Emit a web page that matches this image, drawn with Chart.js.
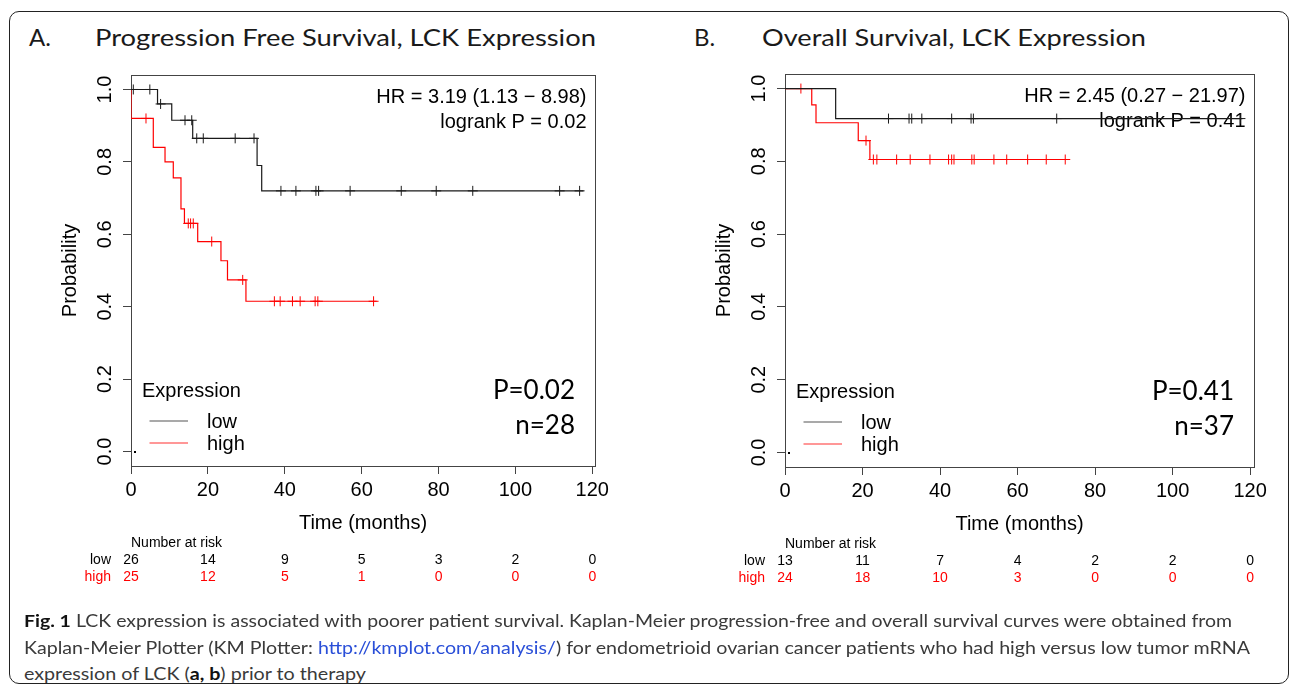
<!DOCTYPE html>
<html lang="en">
<head>
<meta charset="UTF-8">
<title>LCK expression, Kaplan-Meier</title>
<script src="https://cdn.jsdelivr.net/npm/chart.js@4.4.1/dist/chart.umd.min.js"></script>
<style>
  html, body { margin: 0; padding: 0; background: #fff; }
  body { width: 1290px; height: 693px; position: relative; overflow: hidden; font-family: Lato, 'Open Sans', sans-serif; }
  #frame { position: absolute; left: 9px; top: 11px; width: 1280px; height: 673px; box-sizing: border-box;
           border: 1.5px solid #222; border-radius: 10px; }
  .title { position: absolute; font-size: 24px; line-height: 1; color: #1a1a1a; white-space: nowrap; transform-origin: left center; }
  .cap { position: absolute; left: 24px; font-size: 17px; line-height: 1; color: #3a3a3a; white-space: nowrap; transform-origin: left center; }
  .cap b { color: #111; }
  .cap a { color: #2a4fd8; text-decoration: none; }
  canvas { position: absolute; }
</style>
</head>
<body>
<div id="frame"></div>

<div class="title" style="left:29px; top:25px;">A.</div>
<div class="title" id="titleA" style="left:95px; top:25px;">Progression Free Survival, LCK Expression</div>
<div class="title" style="left:694px; top:25px;">B.</div>
<div class="title" id="titleB" style="left:762px; top:25px;">Overall Survival, LCK Expression</div>

<canvas id="pfs" width="600" height="560"></canvas>
<canvas id="os" width="600" height="560"></canvas>

<div class="cap" id="cap1" style="top:612px;"><b>Fig. 1</b> LCK expression is associated with poorer patient survival. Kaplan-Meier progression-free and overall survival curves were obtained from</div>
<div class="cap" id="cap2" style="top:639px;">Kaplan-Meier Plotter (KM Plotter: <a>http://kmplot.com/analysis/</a>) for endometrioid ovarian cancer patients who had high versus low tumor mRNA</div>
<div class="cap" id="cap3" style="top:665px;">expression of LCK (<b>a, b</b>) prior to therapy</div>

<script>
// axis ticks
const timeTicks = [0, 20, 40, 60, 80, 100, 120];
const probTicks = [0, 0.2, 0.4, 0.6, 0.8, 1.0];

// A. progression free survival: step points (months, probability) and censor times
const pfsLowTimes  = [0, 6.9, 10.6, 16.05, 32.8, 34.0, 117.7];
const pfsLowProbs  = [1, 0.96, 0.915, 0.865, 0.79, 0.72, 0.72];
const pfsLowCensor = [0.6, 4.9, 7.7, 14.05, 15.8, 17.1, 18.8, 27.1, 32.0, 39.0, 42.9, 48.1, 48.8, 57.0, 70.3, 79.4, 88.9, 111.5, 116.7];
const pfsHighTimes  = [0, 0, 5.8, 8.85, 11.0, 13.0, 13.9, 17.35, 23.4, 25.1, 29.9, 63.9];
const pfsHighProbs  = [1, 0.92, 0.84, 0.80, 0.756, 0.67, 0.63, 0.58, 0.527, 0.474, 0.415, 0.415];
const pfsHighCensor = [3.9, 14.9, 15.5, 16.2, 21.0, 29.06, 37.3, 38.8, 42.0, 44.0, 47.9, 48.6, 63.1];
const pfsRiskLow  = [26, 14, 9, 5, 3, 2, 0];
const pfsRiskHigh = [25, 12, 5, 1, 0, 0, 0];

// B. overall survival
const osLowTimes  = [0, 13.07, 118.0];
const osLowProbs  = [1, 0.9175, 0.9175];
const osLowCensor = [26.7, 32.0, 32.7, 35.3, 43.0, 48.0, 48.6, 70.1, 117.5];
const osHighTimes  = [0, 6.9, 8.0, 18.9, 21.9, 73.5];
const osHighProbs  = [1, 0.955, 0.906, 0.857, 0.805, 0.805];
const osHighCensor = [4.1, 20.9, 22.8, 23.7, 28.8, 32.3, 37.4, 42.2, 43.0, 43.6, 48.2, 48.8, 53.9, 57.2, 62.6, 67.4, 72.3];
const osRiskLow  = [13, 11, 7, 4, 2, 2, 0];
const osRiskHigh = [24, 18, 10, 3, 0, 0, 0];

const LOW_COLOR = '#1a1a1a';
const HIGH_COLOR = '#ff0000';
const R_FONT = "'Liberation Sans', Arial, sans-serif";

function points(times, probs) {
  return times.map((t, i) => ({ x: t, y: probs[i] }));
}
// censor marks sit on the curve level at their time
function censorPoints(times, probs, censor) {
  return censor.map(t => {
    let lvl = probs[0];
    times.forEach((tt, i) => { if (tt <= t) lvl = probs[i]; });
    return { x: t, y: lvl };
  });
}

const kmDecor = {
  id: 'kmDecor',
  beforeDatasetsDraw(chart) {
    const p = chart.config.options.plugins.kmDecor;
    const a = chart.chartArea;
    const ctx = chart.ctx;
    ctx.save();
    ctx.strokeStyle = '#444';
    ctx.lineWidth = 1;
    ctx.strokeRect(a.left + 0.5, a.top + 0.5, a.right - a.left, a.bottom - a.top);

    ctx.fillStyle = '#000';
    ctx.font = '20px ' + R_FONT;
    ctx.textAlign = 'right';
    ctx.textBaseline = 'middle';
    ctx.fillText(p.hr, a.right - 8.5, a.top + 22);
    ctx.fillText(p.logrank, a.right - 8.5, a.top + 47);

    ctx.font = '26px Lato, sans-serif';
    ctx.fillText(p.pval, a.right - 20, a.bottom - 75);
    ctx.fillText(p.n, a.right - 20, a.bottom - 40);

    // legend
    ctx.textAlign = 'left';
    ctx.font = '20px ' + R_FONT;
    ctx.fillText('Expression', a.left + 11, a.bottom - 75);
    [['low', '#555', 45], ['high', '#ff3030', 23]].forEach(([lab, col, dy]) => {
      ctx.strokeStyle = col;
      ctx.lineWidth = 1.2;
      ctx.beginPath();
      ctx.moveTo(a.left + 18.5, a.bottom - dy);
      ctx.lineTo(a.left + 57, a.bottom - dy);
      ctx.stroke();
      ctx.fillStyle = '#000';
      ctx.fillText(lab, a.left + 76, a.bottom - dy + 1);
    });
    ctx.fillRect(a.left + 3, a.bottom - 15, 2, 2);
    ctx.restore();
  },
  afterDraw(chart) {
    const p = chart.config.options.plugins.kmDecor;
    const a = chart.chartArea;
    const xs = chart.scales.x;
    const ctx = chart.ctx;
    ctx.save();
    ctx.font = '14px ' + R_FONT;
    ctx.textBaseline = 'middle';
    ctx.fillStyle = '#000';
    ctx.textAlign = 'left';
    ctx.fillText('Number at risk', a.left, a.bottom + 77);
    [[p.riskLow, 'low', '#000', 94], [p.riskHigh, 'high', '#ff0000', 111]].forEach(([row, lab, col, dy]) => {
      ctx.fillStyle = col;
      ctx.textAlign = 'right';
      ctx.fillText(lab, a.left - 20, a.bottom + dy);
      ctx.textAlign = 'center';
      row.forEach((v, i) => ctx.fillText(String(v), xs.getPixelForValue(timeTicks[i]), a.bottom + dy));
    });
    ctx.restore();
  }
};

function makePanel(id, box, xMax, d) {
  const canvas = document.getElementById(id);
  const cfg = {
    type: 'line',
    data: {
      datasets: [
        { label: 'low', data: points(d.lowT, d.lowP), borderColor: LOW_COLOR, borderWidth: 1.2, stepped: true, pointRadius: 0 },
        { label: 'high', data: points(d.highT, d.highP), borderColor: HIGH_COLOR, borderWidth: 1.2, stepped: true, pointRadius: 0 },
        { label: 'low censored', data: censorPoints(d.lowT, d.lowP, d.lowC), showLine: false, borderColor: LOW_COLOR,
          pointStyle: 'cross', pointRadius: 5, pointBorderWidth: 1 },
        { label: 'high censored', data: censorPoints(d.highT, d.highP, d.highC), showLine: false, borderColor: HIGH_COLOR,
          pointStyle: 'cross', pointRadius: 5, pointBorderWidth: 1 }
      ]
    },
    options: {
      responsive: false,
      animation: false,
      events: [],
      layout: { padding: { top: 20, left: 0, right: 600 - 91 - (box.right - box.left), bottom: 77 } },
      plugins: {
        legend: { display: false },
        tooltip: { enabled: false },
        kmDecor: { hr: d.hr, logrank: d.logrank, pval: d.pval, n: d.n, riskLow: d.riskLow, riskHigh: d.riskHigh }
      },
      scales: {
        x: {
          type: 'linear', min: 0, max: xMax,
          afterBuildTicks: s => { s.ticks = timeTicks.map(v => ({ value: v })); },
          afterFit: s => { s.height = 72; },
          border: { display: false },
          grid: { drawOnChartArea: false, tickLength: 8, color: '#444' },
          ticks: { color: '#000', font: { family: R_FONT, size: 20 }, padding: 4, maxRotation: 0 },
          title: { display: true, text: 'Time (months)', color: '#000', font: { family: R_FONT, size: 20 }, padding: { top: 0, bottom: 3 } }
        },
        y: {
          min: -0.04, max: 1.04,
          afterBuildTicks: s => { s.ticks = probTicks.map(v => ({ value: v })); },
          afterFit: s => { s.width = 91; },
          border: { display: false },
          grid: { drawOnChartArea: false, tickLength: 8, color: '#444' },
          ticks: { color: '#000', font: { family: R_FONT, size: 20 }, padding: 4, minRotation: 90, maxRotation: 90,
                   crossAlign: 'center', callback: v => v.toFixed(1) },
          title: { display: true, text: 'Probability', color: '#000', font: { family: R_FONT, size: 20 }, padding: { top: 18, bottom: 0 } }
        }
      }
    },
    plugins: [kmDecor]
  };
  const chart = new Chart(canvas, cfg);
  // nudge paddings so the plot box lands on the box of the reference
  const a = chart.chartArea;
  cfg.options.layout.padding.right += (a.right - a.left) - (box.right - box.left);
  cfg.options.layout.padding.bottom += (a.bottom - a.top) - (box.bottom - box.top);
  chart.update('none');
  canvas.style.left = (box.left - chart.chartArea.left) + 'px';
  canvas.style.top = (box.top - chart.chartArea.top) + 'px';
}

makePanel('pfs', { left: 131, top: 75, right: 595, bottom: 466 }, 120.7, {
  lowT: pfsLowTimes, lowP: pfsLowProbs, lowC: pfsLowCensor,
  highT: pfsHighTimes, highP: pfsHighProbs, highC: pfsHighCensor,
  hr: 'HR = 3.19 (1.13 \u2212 8.98)', logrank: 'logrank P = 0.02', pval: 'P=0.02', n: 'n=28',
  riskLow: pfsRiskLow, riskHigh: pfsRiskHigh
});
makePanel('os', { left: 785, top: 74, right: 1254, bottom: 467 }, 121.0, {
  lowT: osLowTimes, lowP: osLowProbs, lowC: osLowCensor,
  highT: osHighTimes, highP: osHighProbs, highC: osHighCensor,
  hr: 'HR = 2.45 (0.27 \u2212 21.97)', logrank: 'logrank P = 0.41', pval: 'P=0.41', n: 'n=37',
  riskLow: osRiskLow, riskHigh: osRiskHigh
});

function fitWidth(id, w) {
  const el = document.getElementById(id);
  el.style.transform = 'scaleX(' + (w / el.getBoundingClientRect().width) + ')';
}
fitWidth('titleA', 501);
fitWidth('titleB', 384);
fitWidth('cap1', 1208);
fitWidth('cap2', 1226);
fitWidth('cap3', 342);
</script>
</body>
</html>
